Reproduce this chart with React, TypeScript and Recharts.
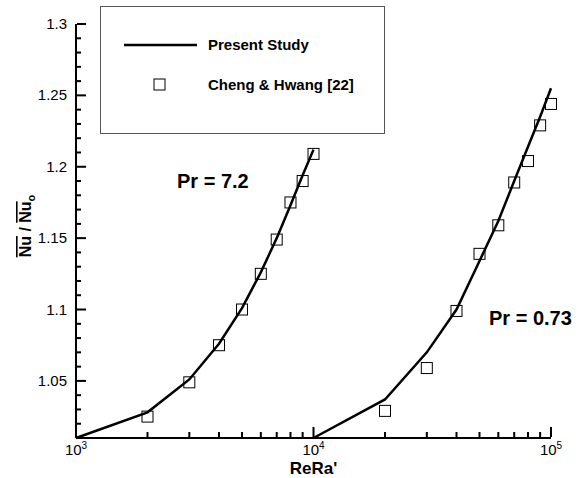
import React from 'react'
import { ComposedChart, Line, Scatter, XAxis, YAxis } from 'recharts'

// Present study curves (Nu / Nu_o vs ReRa')
const pr72LineX = [1000, 2000, 3000, 4000, 5000, 6000, 7000, 8000, 9000, 10000]
const pr72LineY = [1.01, 1.028, 1.051, 1.076, 1.101, 1.126, 1.15, 1.173, 1.194, 1.212]
const pr073LineX = [10000, 20000, 30000, 40000, 50000, 60000, 70000, 80000, 90000, 100000]
const pr073LineY = [1.01, 1.037, 1.07, 1.1, 1.134, 1.162, 1.19, 1.214, 1.235, 1.255]

// Cheng & Hwang [22]
const pr72ExpX = [2000, 3000, 4000, 5000, 6000, 7000, 8000, 9000, 10000]
const pr72ExpY = [1.025, 1.049, 1.075, 1.1, 1.125, 1.149, 1.175, 1.19, 1.209]
const pr073ExpX = [20000, 30000, 40000, 50000, 60000, 70000, 80000, 90000, 100000]
const pr073ExpY = [1.029, 1.059, 1.099, 1.139, 1.159, 1.189, 1.204, 1.229, 1.244]

const xTicks = [1000, 2000, 3000, 4000, 5000, 6000, 7000, 8000, 9000, 10000,
  20000, 30000, 40000, 50000, 60000, 70000, 80000, 90000, 100000]
const xMajor = [1000, 10000, 100000]
const yTicks = [1.01, 1.02, 1.03, 1.04, 1.05, 1.06, 1.07, 1.08, 1.09, 1.1,
  1.11, 1.12, 1.13, 1.14, 1.15, 1.16, 1.17, 1.18, 1.19, 1.2,
  1.21, 1.22, 1.23, 1.24, 1.25, 1.26, 1.27, 1.28, 1.29, 1.3]

const FONT = '"Liberation Sans", Arial, Helvetica, sans-serif'

const zip = (xs: number[], ys: number[]) => xs.map((x, i) => ({ x, y: ys[i] }))
const pr72Line = zip(pr72LineX, pr72LineY)
const pr073Line = zip(pr073LineX, pr073LineY)
const pr72Exp = zip(pr72ExpX, pr72ExpY)
const pr073Exp = zip(pr073ExpX, pr073ExpY)

function isMajorY(v: number) {
  return Math.abs(v * 20 - Math.round(v * 20)) < 1e-6
}

// ticks point into the plot, like the original figure
function YTick(props: any) {
  const { x, y, payload } = props
  const v = payload.value
  const major = isMajorY(v)
  return (
    <g>
      <rect x={x + 1} y={y - 1} width={major ? 9 : 4} height={2} fill="#000" />
      {major && (
        <text x={x - 9} y={y + 5} textAnchor="end" fontSize={15} fontFamily={FONT} fill="#000">
          {String(Number(v.toFixed(2)))}
        </text>
      )}
    </g>
  )
}

function XTick(props: any) {
  const { x, y, payload } = props
  const v = payload.value
  const major = xMajor.includes(v)
  return (
    <g>
      <rect x={x - 1} y={y - (major ? 11 : 6)} width={2} height={major ? 10 : 5} fill="#000" />
      {major && (
        <text x={x} y={y + 17} textAnchor="middle" fontSize={15} fontFamily={FONT} fill="#000">
          10<tspan dy={-6} fontSize={10}>{Math.round(Math.log10(v))}</tspan>
        </text>
      )}
    </g>
  )
}

function Square(props: any) {
  const { cx, cy } = props
  if (cx == null || cy == null) return null
  return <rect x={cx - 5.5} y={cy - 5.5} width={11} height={11} fill="none" stroke="#000" strokeWidth={1} />
}

function LegendBox() {
  return (
    <div style={{ position: 'absolute', left: 100, top: 6, width: 285, height: 128, border: '1px solid #555', boxSizing: 'border-box', background: '#fff' }}>
      <svg width={283} height={126} style={{ display: 'block' }}>
        <line x1={23} x2={96} y1={38} y2={38} stroke="#000" strokeWidth={2.5} />
        <text x={107} y={43} fontSize={15} fontWeight="bold" fontFamily={FONT}>Present Study</text>
        <rect x={53} y={72} width={11} height={11} fill="none" stroke="#000" strokeWidth={1} />
        <text x={107} y={83} fontSize={15} fontWeight="bold" fontFamily={FONT}>Cheng &amp; Hwang [22]</text>
      </svg>
    </div>
  )
}

function Annotations() {
  return (
    <svg width={578} height={478} style={{ position: 'absolute', left: 0, top: 0, pointerEvents: 'none' }}>
      <g fontFamily={FONT} fontWeight="bold" fill="#000">
        <text x={177} y={188} fontSize={20}>Pr = 7.2</text>
        <text x={489} y={325} fontSize={20}>Pr = 0.73</text>
        <text x={313.5} y={474} textAnchor="middle" fontSize={17}>ReRa'</text>
        <text x={31} y={226} transform="rotate(-90 31 226)" textAnchor="middle" fontSize={16}>
          <tspan style={{ textDecoration: 'overline' }}>Nu</tspan>
          <tspan> / </tspan>
          <tspan style={{ textDecoration: 'overline' }}>Nu</tspan>
          <tspan dy={4} fontSize={11}>o</tspan>
        </text>
      </g>
    </svg>
  )
}

export default function App() {
  return (
    <div style={{ position: 'absolute', left: 0, top: 0, width: 578, height: 478, background: '#fff' }}>
      <ComposedChart width={578} height={478} margin={{ top: 24, right: 27, left: 0, bottom: 0 }}>
        <XAxis
          dataKey="x"
          type="number"
          scale="log"
          domain={[1000, 100000]}
          ticks={xTicks}
          interval={0}
          tick={<XTick />}
          tickLine={false}
          tickSize={0}
          tickMargin={0}
          height={40}
          axisLine={{ stroke: '#000', strokeWidth: 2 }}
        />
        <YAxis
          dataKey="y"
          type="number"
          domain={[1.01, 1.3]}
          ticks={yTicks}
          interval={0}
          tick={<YTick />}
          tickLine={false}
          tickSize={0}
          tickMargin={0}
          width={76}
          axisLine={{ stroke: '#000', strokeWidth: 2 }}
        />
        <Line data={pr72Line} dataKey="y" type="linear" stroke="#000" strokeWidth={2.5} dot={false} isAnimationActive={false} />
        <Line data={pr073Line} dataKey="y" type="linear" stroke="#000" strokeWidth={2.5} dot={false} isAnimationActive={false} />
        <Scatter data={pr72Exp} dataKey="y" shape={<Square />} isAnimationActive={false} />
        <Scatter data={pr073Exp} dataKey="y" shape={<Square />} isAnimationActive={false} />
      </ComposedChart>
      <Annotations />
      <LegendBox />
    </div>
  )
}
